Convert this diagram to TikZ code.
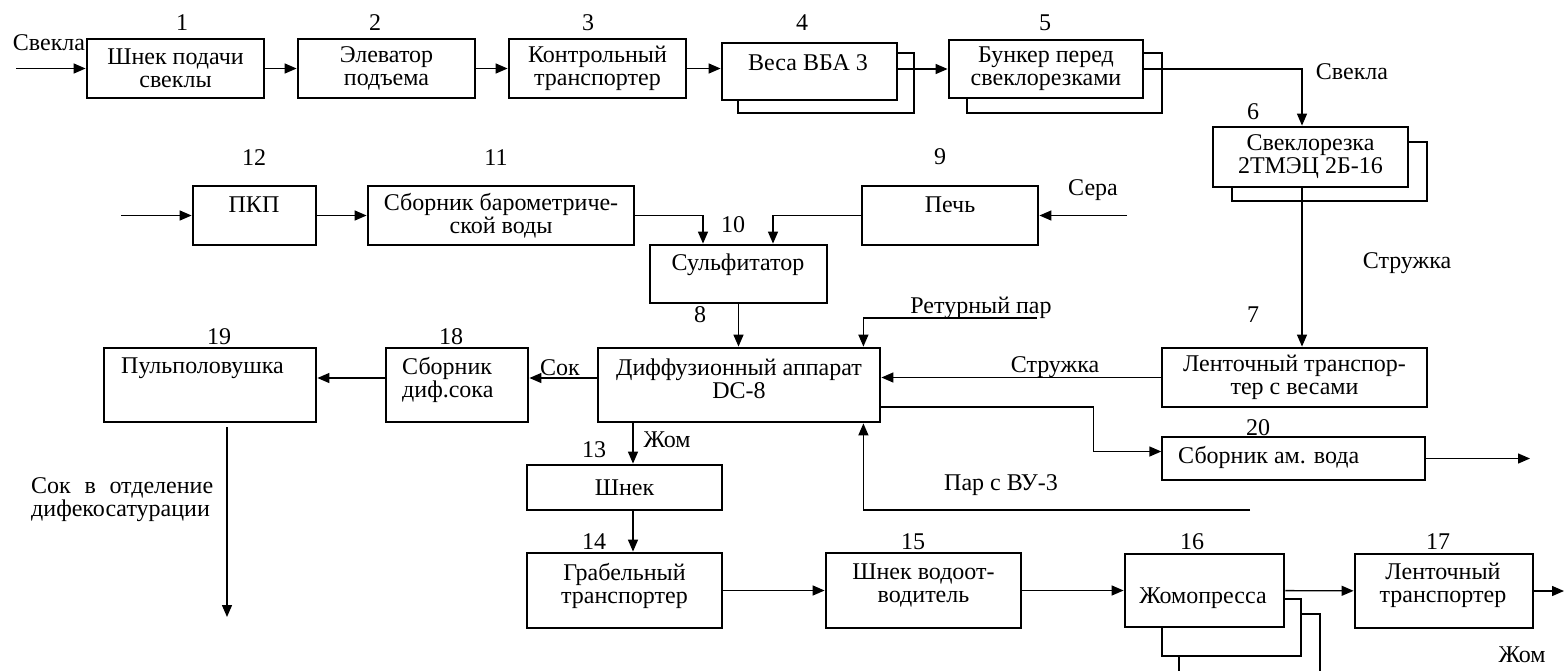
\documentclass[tikz,border=0pt]{standalone}
\usepackage{fontspec}
\setmainfont{Liberation Serif}
\usetikzlibrary{arrows.meta}

\tikzset{
  blk/.style={draw, line width=2.8pt, fill=white, inner sep=0pt, align=center,
    font=\fontsize{24}{23}\selectfont},
  thinblk/.style={blk, line width=1.4pt},
  txt/.style={inner sep=0pt, align=center, font=\fontsize{24}{23}\selectfont},
  ln/.style={line width=1.4pt},
  arr/.style={ln, -{Triangle[length=12pt,width=10pt]}},
}

\begin{document}
\begin{tikzpicture}[x=1pt,y=-1pt]
    \useasboundingbox (0,0) rectangle (1565,670);
    % Nodes
    \node[blk, minimum width=177, minimum height=59] (shnek) at (175.5,68.5) {Шнек подачи\\свеклы} ; %
    \node[blk, minimum width=177, minimum height=59] (elev) at (386.5,68.5) {Элеватор\\подъема} ; %
    \node[blk, minimum width=177, minimum height=59] (kontr) at (597.5,68.5) {Контрольный\\транспортер} ; %
    \node[blk, minimum width=176, minimum height=60] (vesyb) at (826,83) {} ; %
    \node[blk, minimum width=175, minimum height=57] (vesy) at (809.5,71.5) {} ; %
    \node[txt] (tvesy) at (808,63) {Веса ВБА 3} ; %
    \node[blk, minimum width=195, minimum height=60] (bunkerb) at (1064.5,83) {} ; %
    \node[blk, minimum width=194, minimum height=58] (bunker) at (1046,69) {Бункер перед\\свеклорезками} ; %
    \node[blk, minimum width=195, minimum height=59] (rezkab) at (1329.5,171.5) {} ; %
    \node[blk, minimum width=195, minimum height=60] (rezka) at (1310.5,157) {Свеклорезка\\2ТМЭЦ 2Б-16} ; %
    \node[blk, minimum width=265, minimum height=59] (lenta) at (1294.5,377.5) {Ленточный транспор-\\тер с весами} ; %

    \node[blk, minimum width=123, minimum height=59] (pkp) at (254.5,215.5) {} ; %
    \node[txt] (tpkp) at (254,205) {ПКП} ; %
    \node[blk, minimum width=266, minimum height=59] (sborn) at (501,215.5) {Сборник барометриче-\\ской воды} ; %
    \node[blk, minimum width=176, minimum height=59] (pech) at (950,215.5) {} ; %
    \node[txt] (tpech) at (950,205) {Печь} ; %
    \node[blk, minimum width=177, minimum height=58] (sulf) at (738.5,274) {} ; %
    \node[txt] (tsulf) at (738,265) {Сульфитатор} ; %

    \node[blk, minimum width=282, minimum height=74] (diff) at (739,385) {} ; %
    \node[txt] (tdiff) at (739,379) {Диффузионный аппарат\\DC-8} ; %
    \node[blk, minimum width=142, minimum height=74] (sokcol) at (457,385) {} ; %
    \node[txt, anchor=west, align=left] (tsokcol) at (402,379.5) {Сборник\\диф.сока} ; %
    \node[blk, minimum width=212, minimum height=74] (pulp) at (210,385) {} ; %
    \node[txt, anchor=west] (tpulp) at (121,368) {Пульполовушка} ; %
    \node[thinblk, minimum width=263, minimum height=43] (amvoda) at (1293.5,458.5) {} ; %
    \node[txt, anchor=west] (tamvoda) at (1178,457) {Сборник ам. вода} ; %

    \node[blk, minimum width=195, minimum height=45] (shnek2) at (624.5,487.5) {Шнек} ; %
    \node[blk, minimum width=195, minimum height=75] (grab) at (624.5,590.5) {} ; %
    \node[txt] (tgrab) at (624.5,585.5) {Грабельный\\транспортер} ; %
    \node[blk, minimum width=195, minimum height=75] (vodoot) at (923.5,590.5) {} ; %
    \node[txt] (tvodoot) at (923.5,585.5) {Шнек водоот-\\водитель} ; %
    \begin{scope}
      \clip (0,0) rectangle (1565,670);
      \node[blk, minimum width=141, minimum height=86] (pressc) at (1249.5,657) {} ; %
    \end{scope}
    \node[blk, minimum width=139, minimum height=57] (pressb) at (1231.5,627.5) {} ; %
    \node[blk, minimum width=159, minimum height=73] (press) at (1204.5,590.5) {} ; %
    \node[txt] (tpress) at (1203,598) {Жомопресса} ; %
    \node[blk, minimum width=178, minimum height=74] (lenta2) at (1444,591) {} ; %
    \node[txt] (tlenta2) at (1443,585.5) {Ленточный\\транспортер} ; %

    % Numbers
    \node[txt] (n1) at (182,23) {1} ; %
    \node[txt] (n2) at (375,23) {2} ; %
    \node[txt] (n3) at (588,23) {3} ; %
    \node[txt] (n4) at (802,23) {4} ; %
    \node[txt] (n5) at (1045,23) {5} ; %
    \node[txt] (n6) at (1253,112) {6} ; %
    \node[txt] (n7) at (1253,315) {7} ; %
    \node[txt] (n8) at (700,315) {8} ; %
    \node[txt] (n9) at (940,157) {9} ; %
    \node[txt] (n10) at (733,225) {10} ; %
    \node[txt] (n11) at (496,158) {11} ; %
    \node[txt] (n12) at (254,158) {12} ; %
    \node[txt] (n13) at (594,450) {13} ; %
    \node[txt] (n14) at (594,542) {14} ; %
    \node[txt] (n15) at (913,542) {15} ; %
    \node[txt] (n16) at (1192,542) {16} ; %
    \node[txt] (n17) at (1438,542) {17} ; %
    \node[txt] (n18) at (451,337) {18} ; %
    \node[txt] (n19) at (219,337) {19} ; %
    \node[txt] (n20) at (1258,428) {20} ; %

    % Flow labels
    \node[txt] (lsvekla) at (49,43) {Свекла} ; %
    \node[txt] (lsvekla2) at (1352,72) {Свекла} ; %
    \node[txt] (lstruzh) at (1407,263) {Стружка} ; %
    \node[txt] (lsera) at (1093,190) {Сера} ; %
    \node[txt] (lretur) at (981,308) {Ретурный пар} ; %
    \node[txt] (lstruzh2) at (1055,367) {Стружка} ; %
    \node[txt] (lsok) at (560,368) {Сок} ; %
    \node[txt] (lzhom) at (667,440) {Жом} ; %
    \node[txt] (lpar) at (1001,485) {Пар с ВУ-3} ; %
    \node[txt, anchor=west, align=left] (lsok2) at (31,499.5) {\makebox[182pt][s]{Сок в отделение}\\дифекосатурации} ; %
    \node[txt] (lzhom2) at (1522,655) {Жом} ; %

    % Free ends
    \coordinate (insvekla) at (16,68.5) ; %
    \coordinate (inpkp) at (121,215.5) ; %
    \coordinate (insera) at (1127,215.5) ; %
    \coordinate (cut) at (1302,0) ; %
    \coordinate (retur) at (1037,318) ; %
    \coordinate (par) at (1250,510) ; %
    \coordinate (sokA) at (227,427) ; %
    \coordinate (sokB) at (227,617) ; %
    \coordinate (outam) at (1530,458.5) ; %
    \coordinate (outzhom) at (1564,591) ; %

    % Edges
    \draw[arr] (insvekla) -- (shnek) ; %
    \draw[arr] (shnek) -- (elev) ; %
    \draw[arr] (elev) -- (kontr) ; %
    \draw[arr] (kontr.east) -- (kontr.east -| vesy.west) ; %
    \draw[arr] (vesy.east |- bunker.west) -- (bunker.west) ; %
    \draw[arr] (bunker.east) -| (cut |- rezka.north) ; %
    \draw[arr] (cut |- rezka.south) -- (cut |- lenta.north) ; %
    \draw[arr] (lenta.west) -- (lenta.west -| diff.east) ; %
    \draw[arr] (inpkp) -- (pkp) ; %
    \draw[arr] (pkp) -- (sborn) ; %
    \draw[arr] (sborn.east) -| ([xshift=-35.5]sulf.north) ; %
    \draw[arr] (pech.west) -| ([xshift=34.5]sulf.north) ; %
    \draw[arr] (insera) -- (pech) ; %
    \draw[arr] (sulf.south) -- (sulf.south |- diff.north) ; %
    \draw[arr] (retur) -| ([xshift=-18]diff.north east) ; %
    \draw[arr] (par) -| ([xshift=-18]diff.south east) ; %
    \draw[arr] ([yshift=-22]diff.east) -- ++(212,0) |- ([yshift=7]amvoda.west) ; %
    \draw[arr] (amvoda) -- (outam) ; %
    \draw[arr] ([yshift=7]diff.west) -- ([yshift=7]sokcol.east) ; %
    \draw[arr] ([yshift=7]sokcol.west) -- ([yshift=7]pulp.east) ; %
    \draw[arr] (sokA) -- (sokB) ; %
    \draw[arr] ([xshift=8.5]shnek2.north |- diff.south) -- ([xshift=8.5]shnek2.north) ; %
    \draw[arr] ([xshift=8.5]shnek2.south) -- ([xshift=8.5]grab.north) ; %
    \draw[arr] (grab) -- (vodoot) ; %
    \draw[arr] (vodoot) -- (press) ; %
    \draw[arr] (press) -- (lenta2) ; %
    \draw[arr] (lenta2) -- (outzhom) ; %
\end{tikzpicture}
\end{document}
